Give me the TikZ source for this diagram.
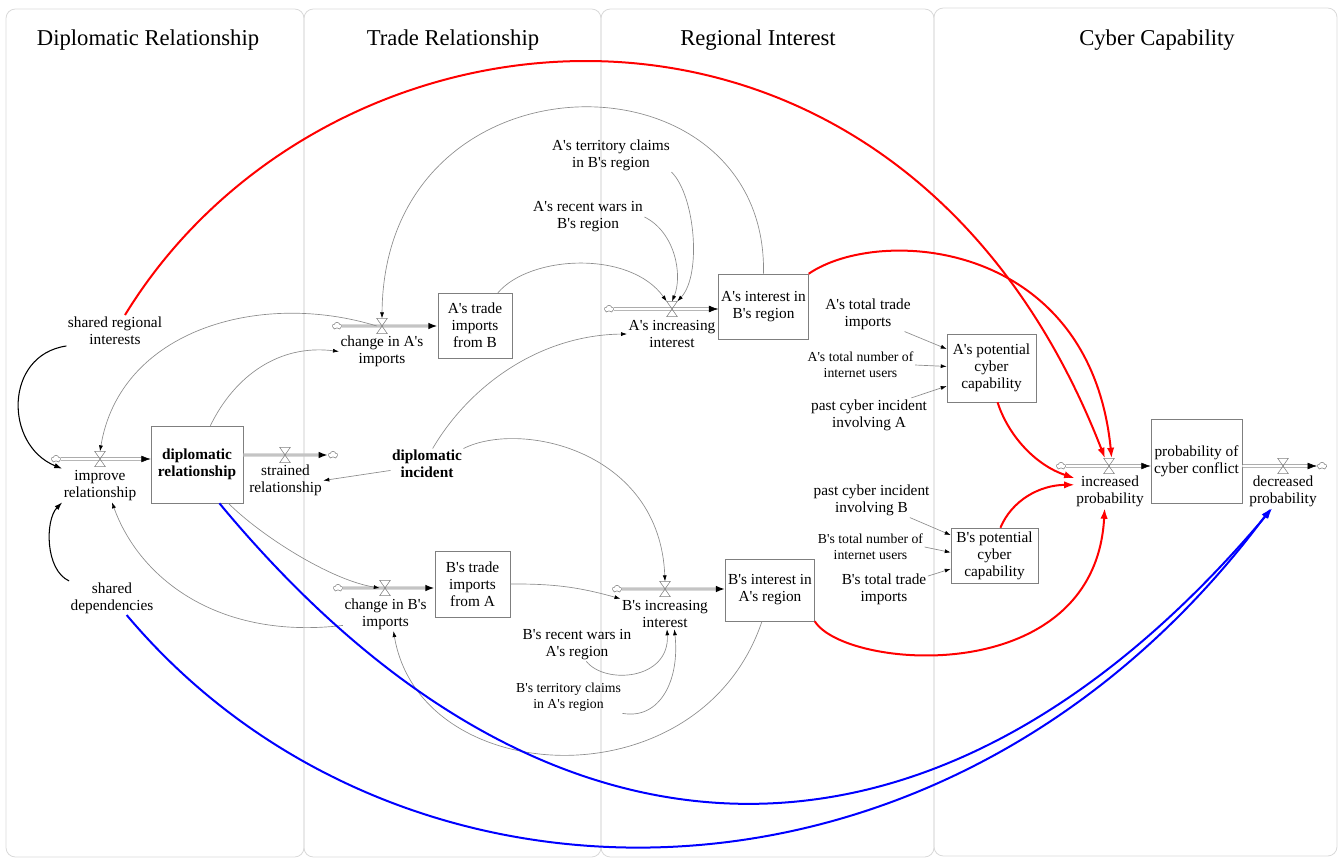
\documentclass[tikz,border=0pt]{standalone}
\usepackage{fontspec}
\setmainfont{Liberation Serif}[Ligatures=TeXOff]
\usepackage{tikz}
\usetikzlibrary{arrows.meta,shapes.symbols}
\definecolor{mylanecolor}{HTML}{d9d9d9}
\definecolor{mylinkcolor}{HTML}{8c8c8c}
\definecolor{mystockcolor}{HTML}{7f7f7f}
\definecolor{mypipecolor}{HTML}{c4c4c4}
\definecolor{myredcolor}{HTML}{ff0000}
\definecolor{mybluecolor}{HTML}{0000ff}
\newcommand{\mydiagfont}{\fontsize{11.5pt}{12.75pt}\selectfont}

\tikzset{
  lane/.style={draw=mylanecolor, line width=0.6pt, rounded corners=7pt},
  lanetitle/.style={font=\fontsize{17pt}{20pt}\selectfont},
  var/.style={align=center, inner sep=1pt, font=\mydiagfont},
  smallvar/.style={var, font=\fontsize{10.3pt}{12pt}\selectfont},
  boldvar/.style={var, font=\mydiagfont\bfseries},
  stock/.style={draw=mystockcolor, fill=white, rectangle, align=center, inner sep=2pt, font=\mydiagfont},
  valve/.style={rectangle, inner sep=0pt, minimum width=7.5pt, minimum height=11pt},
  sink/.style={cloud, cloud puffs=5, cloud ignores aspect, draw=mystockcolor, line width=0.4pt, inner sep=0pt, minimum width=7pt, minimum height=5.5pt},
  pipe/.style={draw=mystockcolor, double=white, double distance=1.5pt, line width=0.4pt, -{Latex[length=7pt, width=5pt, color=black]}},
  graypipe/.style={draw=mypipecolor, line width=2.6pt, -{Latex[length=7pt, width=5pt, color=black]}},
  link/.style={draw=mylinkcolor, line width=0.5pt, -{Latex[length=4.5pt, width=3pt, color=black]}},
  blacklink/.style={draw=black, line width=0.8pt, -{Latex[length=6pt, width=4pt]}},
  redlink/.style={draw=myredcolor, line width=1.5pt, -{Latex[length=8pt, width=5.5pt]}},
  bluelink/.style={draw=mybluecolor, line width=1.5pt, -{Latex[length=8pt, width=5.5pt]}},
}

\begin{document}
\begin{tikzpicture}[x=0.75pt, y=0.75pt]%
\useasboundingbox (0, 0) rectangle (1341, -859);%
\draw[lane] (6, -9) rectangle (304, -857);%
\draw[lane] (304, -9) rectangle (601, -857);%
\draw[lane] (601, -9) rectangle (934, -857);%
\draw[lane] (934, -8) rectangle (1337, -856);%
\node[lanetitle] (title1) at (148, -40) {Diplomatic Relationship};%
\node[lanetitle] (title2) at (453, -40) {Trade Relationship};%
\node[lanetitle] (title3) at (758, -40) {Regional Interest};%
\node[lanetitle] (title4) at (1157, -40) {Cyber Capability};%
\node[var] (sri) at (115, -330.5) {shared regional\\interests};%
\node[var] (sdep) at (112, -598) {shared\\dependencies};%
\node[sink] (cl1) at (56, -459) {};%
\node[valve] (impv) at (100, -459) {};%
\node[var] (imprL) at (100, -485.5) {improve\\relationship};%
\node[stock, font=\mydiagfont\bfseries, minimum width=69pt, minimum height=57.75pt] (dipl) at (197, -464.5) {diplomatic\\relationship};%
\node[valve] (strv) at (285, -455) {};%
\node[sink] (cl2) at (333, -455) {};%
\node[var] (strL) at (285.5, -480.5) {strained\\relationship};%
\node[boldvar] (incd) at (427, -464) {diplomatic\\incident};%
\node[sink] (cl3) at (337, -326) {};%
\node[valve] (chAv) at (382, -326) {};%
\node[var] (chAL) at (382, -351.5) {change in A's\\imports};%
\node[stock, minimum width=55.5pt, minimum height=48.75pt] (atb) at (475, -325.5) {A's trade\\imports\\from B};%
\node[sink] (cl4) at (338, -588) {};%
\node[valve] (chBv) at (385, -588) {};%
\node[var] (chBL) at (385.5, -614) {change in B's\\imports};%
\node[stock, minimum width=56.25pt, minimum height=49.5pt] (bta) at (472.5, -584) {B's trade\\imports\\from A};%
\node[sink] (cl5) at (609, -309) {};%
\node[valve] (aiv) at (672, -309) {};%
\node[var] (aiL) at (672, -334) {A's increasing\\interest};%
\node[stock, minimum width=62.25pt, minimum height=48.75pt] (aint) at (763.5, -306.5) {A's interest in\\B's region};%
\node[var] (atc) at (611, -155) {A's territory claims\\in B's region};%
\node[var] (arw) at (588, -217) {A's recent wars in\\B's region};%
\node[sink] (cl6) at (617, -589) {};%
\node[valve] (biv) at (665, -589) {};%
\node[var] (biL) at (665, -614) {B's increasing\\interest};%
\node[stock, minimum width=63pt, minimum height=46.5pt] (bint) at (770, -590) {B's interest in\\A's region};%
\node[var] (brw) at (577, -644.5) {B's recent wars in\\A's region};%
\node[smallvar] (btc) at (568.5, -697.5) {B's territory claims\\in A's region};%
\node[var] (att) at (868, -314.5) {A's total trade\\imports};%
\node[smallvar] (anu) at (860.5, -365) {A's total number of\\internet users};%
\node[var] (pca) at (869, -415) {past cyber incident\\involving A};%
\node[stock, minimum width=66.75pt, minimum height=51pt] (apc) at (991.5, -368) {A's potential\\cyber\\capability};%
\node[var] (pcb) at (871.5, -500.5) {past cyber incident\\involving B};%
\node[smallvar] (bnu) at (870.5, -547) {B's total number of\\internet users};%
\node[var] (btt) at (884, -589.5) {B's total trade\\imports};%
\node[stock, minimum width=65.25pt, minimum height=41.25pt] (bpc) at (994.5, -555.5) {B's potential\\cyber\\capability};%
\node[sink] (cl7) at (1061, -466) {};%
\node[valve] (ipv) at (1109, -466) {};%
\node[var] (ipL) at (1110, -491) {increased\\probability};%
\node[stock, minimum width=68.25pt, minimum height=63pt] (prob) at (1196.5, -461) {probability of\\cyber conflict};%
\node[valve] (dpv) at (1283, -466) {};%
\node[sink] (cl8) at (1322, -466) {};%
\node[var] (dpL) at (1283, -491) {decreased\\probability};%
\draw[pipe] (cl1) -- (dipl.west |- cl1);%
\draw[graypipe] (dipl.east |- strv) -- (cl2);%
\draw[graypipe] (cl3) -- (atb.west |- cl3);%
\draw[graypipe] (cl4) -- (bta.west |- cl4);%
\draw[pipe] (cl5) -- (aint.west |- cl5);%
\draw[graypipe] (cl6) -- (bint.west |- cl6);%
\draw[pipe] (cl7) -- (prob.west |- cl7);%
\draw[pipe] (prob.east |- dpv) -- (cl8);%
\foreach \v in {impv, strv, chAv, chBv, aiv, biv, ipv, dpv}
  \draw[mystockcolor, line width=0.4pt] (\v.north west) -- (\v.north east) -- (\v.south west) -- (\v.south east) -- cycle;%
\draw[blacklink] (sri.south west) .. controls (4, -355) and (4, -445) .. (imprL.north west);%
\draw[blacklink] (sdep.north west) .. controls (45, -570) and (45, -520) .. (imprL.south west);%
\draw[link] (dipl.71) .. controls (235, -375) and (280, -344) .. (chAL.west);%
\draw[link] (chAv.west) .. controls (260, -290) and (120, -330) .. (impv.north);%
\draw[link] (chBL.195) .. controls (220, -640) and (140, -580) .. ([xshift=9pt]imprL.south);%
\draw[link] (dipl.-51) .. controls (260, -535) and (330, -580) .. (chBv.west);%
\draw[link] (incd.190) -- (strL.east);%
\draw[link] (incd.70) .. controls (470, -385) and (540, -335) .. (aiL.west);%
\draw[link] (incd.north east) .. controls (520, -420) and (660, -450) .. (biv.north);%
\draw[link] (atb.55) .. controls (530, -255) and (630, -250) .. (aiv.north west);%
\draw[link] (atc.south east) .. controls (695, -195) and (702, -275) .. (aiv.north east);%
\draw[link] (arw.east) .. controls (675, -232) and (683, -275) .. (aiv.north);%
\draw[link] (aint.north) .. controls (768, -45) and (384, -45) .. (chAv.north);%
\draw[link] (bta.east) to[bend left=8] (biL.north west);%
\draw[link] ([xshift=7pt]brw.south) .. controls (605, -685) and (670, -680) .. ([xshift=1.5pt]biL.south);%
\draw[link] (btc.south east) .. controls (660, -720) and (680, -680) .. ([xshift=7pt]biL.south);%
\draw[link] ([xshift=-6pt]bint.south) .. controls (700, -805) and (420, -790) .. ([xshift=6pt]chBL.south);%
\draw[link] (att.-25) -- (apc.157);%
\draw[link] (anu.east) -- (apc.178);%
\draw[link] (pca.22) -- (apc.202);%
\draw[link] (pcb.-24) -- (bpc.155);%
\draw[link] (bnu.east) -- (bpc.176);%
\draw[link] (btt.17) -- (bpc.197);%
\draw[redlink] ([xshift=7.5pt]sri.north) .. controls (330, 20) and (900, 70) .. ([xshift=-3pt]ipv.north);%
\draw[redlink] (aint.north east) .. controls (880, -225) and (1090, -240) .. ([xshift=2pt]ipv.north);%
\draw[redlink] (apc.-80) .. controls (1008, -435) and (1035, -465) .. (ipL.160);%
\draw[redlink] (bpc.78) .. controls (1012, -500) and (1040, -485) .. (ipL.170);%
\draw[redlink] (bint.south east) .. controls (845, -670) and (1095, -690) .. ([xshift=-4pt]ipL.south);%
\draw[bluelink] (dipl.-60) .. controls (550, -902) and (940, -902) .. ([xshift=-8pt]dpL.south);%
\draw[bluelink] ([xshift=11pt]sdep.south) .. controls (400, -940) and (950, -940) .. ([xshift=-9pt]dpL.south);%
\end{tikzpicture}
\end{document}
